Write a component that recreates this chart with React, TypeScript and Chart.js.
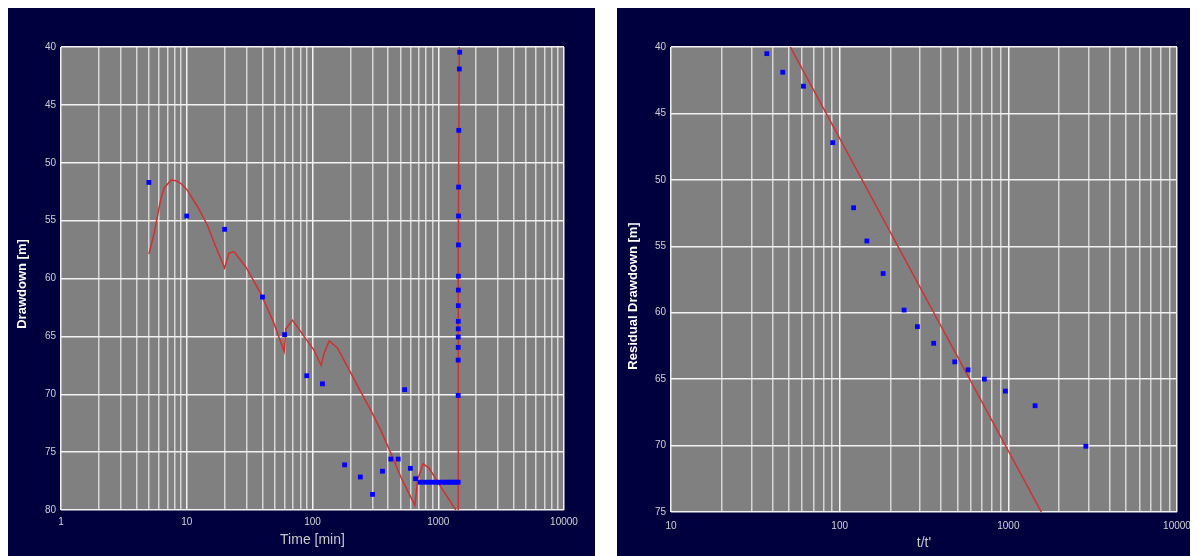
import React, { useEffect, useRef } from "react";
import { Chart, registerables } from "chart.js";

Chart.register(...registerables);

// ---------- data: pumping phase (left chart) ----------
const pumpTime = [5, 10, 20, 40, 60, 90, 120, 180, 240, 300, 360, 420, 480, 540, 600, 660,
  720, 780, 840, 900, 960, 1020, 1080, 1140, 1200, 1260, 1320, 1380, 1440];
const pumpDrawdown = [51.7, 54.6, 55.75, 61.6, 64.85, 68.4, 69.1, 76.1, 77.15, 78.65, 76.65, 75.6, 75.6, 69.6, 76.4, 77.3,
  77.6, 77.6, 77.6, 77.6, 77.6, 77.6, 77.6, 77.6, 77.6, 77.6, 77.6, 77.6, 77.6];

// recovery phase plotted against total time
const recoveryTime = [1480, 1472, 1456, 1452, 1450, 1448, 1446, 1445, 1444, 1443, 1442.5, 1442, 1441.5, 1441, 1440.5];
const recoveryDrawdown = [40.45, 41.9, 47.2, 52.1, 54.6, 57.1, 59.8, 61.0, 62.35, 63.7, 64.35, 65.05, 65.95, 67.05, 70.1];

// model curve (pumping)
const modelTime = [5, 5.5, 6.2, 6.6, 7.5, 8.2, 9, 10, 12.2, 14.6, 17, 20, 21.7, 23.8, 29.5, 38.8, 49.5, 59.5,
  61.4, 69.3, 85.7, 103, 117, 123.7, 135.6, 158, 195.5, 242, 291, 349, 420, 504, 587, 653, 684, 759, 847, 1049, 1380, 1440];
const modelDrawdown = [57.9, 56.1, 53.2, 52.2, 51.5, 51.55, 51.8, 52.3, 53.8, 55.4, 57.25, 59.1, 57.8, 57.7, 59.0, 61.3, 63.9, 66.3,
  64.35, 63.6, 65.0, 66.2, 67.5, 66.45, 65.4, 66.0, 67.9, 69.8, 71.4, 73.1, 75.1, 77.15, 78.6, 79.6, 77.4, 76.0, 76.4, 78.0, 80.0, 80.4];

// model curve (recovery, against total time)
const recoveryModelTime = [1440.56, 1441, 1445, 1468.8];
const recoveryModelDrawdown = [80, 74.1, 57.7, 40];

// ---------- data: recovery (right chart) ----------
const timeRatio = [37, 46, 61, 91, 121, 145, 181, 241, 289, 361, 481, 577, 721, 961, 1441, 2881];
const residualDrawdown = [40.5, 41.9, 42.95, 47.2, 52.1, 54.6, 57.05, 59.8, 61.05, 62.3, 63.7, 64.3, 65.0, 65.9, 67.0, 70.05];
const fitRatio = [51, 1570];
const fitResidual = [40, 75];

// ---------- ticks ----------
const timeTickLabels = [1, 10, 100, 1000, 10000];
const ratioTickLabels = [10, 100, 1000, 10000];
const drawdownTicks = [40, 45, 50, 55, 60, 65, 70, 75, 80];
const residualTicks = [40, 45, 50, 55, 60, 65, 70, 75];

// ---------- styles ----------
const NAVY = "#00003e";
const PLOT_BG = "#808080";
const GRID_MAJOR = "#f2f2f2";
const GRID_MINOR = "#d6d6d6";
const TICK_COLOR = "#d2d2d2";
const RED = "#d03030";
const BLUE = "#0000ff";
const TICK_FONT = { family: "'Liberation Sans Narrow', 'Liberation Sans', Arial, sans-serif", size: 10 };

function logGrid(min: number, max: number): number[] {
  const out: number[] = [];
  for (let d = min; d < max; d *= 10) {
    for (let m = 1; m <= 9; m++) out.push(d * m);
  }
  out.push(max);
  return out;
}

const bgPlugin = {
  id: "panelBg",
  beforeDraw(chart: any) {
    const { ctx, chartArea, width, height } = chart;
    ctx.save();
    ctx.fillStyle = NAVY;
    ctx.fillRect(0, 0, width, height);
    ctx.fillStyle = PLOT_BG;
    ctx.fillRect(chartArea.left, chartArea.top, chartArea.right - chartArea.left, chartArea.bottom - chartArea.top);
    ctx.restore();
  },
};

const yTitlePlugin = {
  id: "yTitle",
  afterDraw(chart: any, _args: any, opts: any) {
    if (!opts || !opts.text) return;
    const ctx = chart.ctx;
    ctx.save();
    ctx.translate(opts.x, opts.y);
    ctx.rotate(-Math.PI / 2);
    ctx.font = "bold 13px 'Liberation Sans', Arial, sans-serif";
    ctx.fillStyle = "#ffffff";
    ctx.textAlign = "center";
    ctx.textBaseline = "middle";
    ctx.fillText(opts.text, 0, 0);
    ctx.restore();
  },
};

interface PanelOpts {
  points: { x: number; y: number }[][];
  lines: { x: number; y: number }[][];
  xMin: number;
  xMax: number;
  xLabels: number[];
  yTicks: number[];
  xTitle: string;
  yTitle: string;
  yTitleX: number;
  yTitleY: number;
  yWidth: number;
  xHeight: number;
  padTop: number;
  padRight: number;
  xTickPad: number;
  xTitlePadBottom: number;
}

function makeConfig(o: PanelOpts): any {
  const grid = logGrid(o.xMin, o.xMax);
  const datasets: any[] = [];
  o.points.forEach((p) =>
    datasets.push({
      data: p,
      showLine: false,
      pointStyle: "rect",
      pointRadius: 3.4,
      pointBorderWidth: 0,
      pointBackgroundColor: BLUE,
      pointBorderColor: BLUE,
    })
  );
  o.lines.forEach((l) =>
    datasets.push({
      data: l,
      showLine: true,
      borderColor: RED,
      borderWidth: 1.5,
      pointRadius: 0,
      tension: 0,
    })
  );
  return {
    type: "scatter",
    data: { datasets },
    plugins: [bgPlugin, yTitlePlugin],
    options: {
      responsive: false,
      animation: false,
      devicePixelRatio: 1,
      events: [],
      layout: { padding: { top: o.padTop, right: o.padRight, left: 0, bottom: 0 } },
      plugins: {
        legend: { display: false },
        tooltip: { enabled: false },
        yTitle: { text: o.yTitle, x: o.yTitleX, y: o.yTitleY },
      },
      scales: {
        x: {
          type: "logarithmic",
          min: o.xMin,
          max: o.xMax,
          afterBuildTicks: (s: any) => {
            s.ticks = grid.map((v) => ({ value: v }));
          },
          afterFit: (s: any) => {
            s.height = o.xHeight;
            s.paddingLeft = 0;
            s.paddingRight = 0;
          },
          ticks: {
            autoSkip: false,
            maxRotation: 0,
            minRotation: 0,
            padding: o.xTickPad,
            color: TICK_COLOR,
            font: TICK_FONT,
            callback: (v: any) => (o.xLabels.includes(Number(v)) ? String(v) : ""),
          },
          grid: {
            drawTicks: false,
            lineWidth: 1.5,
            color: (c: any) => (c.tick && o.xLabels.includes(c.tick.value) ? GRID_MAJOR : GRID_MINOR),
          },
          border: { display: false },
          title: {
            display: true,
            text: o.xTitle,
            color: "#c8c8c8",
            font: { family: "'Liberation Sans', Arial, sans-serif", size: 14 },
            padding: { top: 0, bottom: o.xTitlePadBottom },
          },
        },
        y: {
          type: "linear",
          reverse: true,
          min: o.yTicks[0],
          max: o.yTicks[o.yTicks.length - 1],
          afterBuildTicks: (s: any) => {
            s.ticks = o.yTicks.map((v) => ({ value: v }));
          },
          afterFit: (s: any) => {
            s.width = o.yWidth;
            s.paddingTop = 0;
            s.paddingBottom = 0;
          },
          ticks: { padding: 5, color: TICK_COLOR, font: TICK_FONT },
          grid: { drawTicks: false, lineWidth: 1.5, color: GRID_MAJOR },
          border: { display: false },
          title: { display: false },
        },
      },
    },
  };
}

const zip = (xs: number[], ys: number[]) => xs.map((x, i) => ({ x, y: ys[i] }));

export default function App() {
  const leftRef = useRef<HTMLCanvasElement>(null);
  const rightRef = useRef<HTMLCanvasElement>(null);

  useEffect(() => {
    document.documentElement.style.overflow = "hidden";
    document.body.style.overflow = "hidden";
    const left = new Chart(
      leftRef.current as HTMLCanvasElement,
      makeConfig({
        points: [zip(pumpTime, pumpDrawdown), zip(recoveryTime, recoveryDrawdown)],
        lines: [zip(modelTime, modelDrawdown), zip(recoveryModelTime, recoveryModelDrawdown)],
        xMin: 1,
        xMax: 10000,
        xLabels: timeTickLabels,
        yTicks: drawdownTicks,
        xTitle: "Time [min]",
        yTitle: "Drawdown [m]",
        yTitleX: 14,
        yTitleY: 276,
        yWidth: 53,
        xHeight: 46,
        padTop: 39,
        padRight: 31,
        xTickPad: 6,
        xTitlePadBottom: 7,
      })
    );
    const right = new Chart(
      rightRef.current as HTMLCanvasElement,
      makeConfig({
        points: [zip(timeRatio, residualDrawdown)],
        lines: [zip(fitRatio, fitResidual)],
        xMin: 10,
        xMax: 10000,
        xLabels: ratioTickLabels,
        yTicks: residualTicks,
        xTitle: "t/t'",
        yTitle: "Residual Drawdown [m]",
        yTitleX: 16,
        yTitleY: 288,
        yWidth: 54,
        xHeight: 44,
        padTop: 39,
        padRight: 13,
        xTickPad: 8,
        xTitlePadBottom: 4,
      })
    );
    return () => {
      left.destroy();
      right.destroy();
    };
  }, []);

  return (
    <div style={{ display: "flex", gap: "22px", alignItems: "flex-start" }}>
      <canvas ref={leftRef} width={587} height={548} style={{ display: "block", width: 587, height: 548 }} />
      <canvas ref={rightRef} width={573} height={548} style={{ display: "block", width: 573, height: 548 }} />
    </div>
  );
}
